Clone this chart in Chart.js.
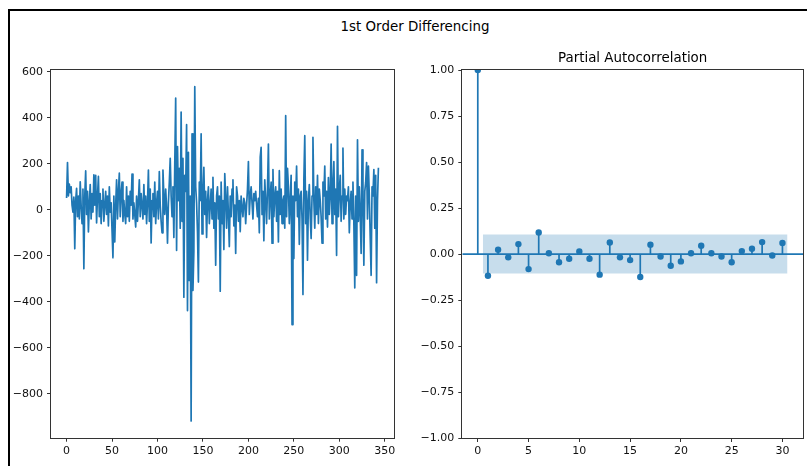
<!DOCTYPE html>
<html>
<head>
<meta charset="utf-8">
<script src="https://cdn.jsdelivr.net/npm/chart.js@4.4.1/dist/chart.umd.min.js"></script>
<style>
html, body { margin: 0; padding: 0; background: #fff; }
#page { position: relative; width: 807px; height: 466px; overflow: hidden; font-family: "DejaVu Sans", sans-serif; }
#frame { position: absolute; left: 8px; top: 9px; right: -10px; bottom: -10px; border-top: 2px solid #000; border-left: 2px solid #000; }
#suptitle { position: absolute; left: 0; width: 830px; top: 19px; line-height: 16px; text-align: center; font-size: 13.4px; color: #000; }
#diffChart { position: absolute; left: 0; top: 0; }
#pacfChart { position: absolute; left: 407px; top: 0; }
</style>
</head>
<body>
<div id="page">
  <div id="frame"></div>
  <div id="suptitle">1st Order Differencing</div>
  <canvas id="diffChart" width="400" height="466"></canvas>
  <canvas id="pacfChart" width="400" height="466"></canvas>
</div>
<script>
// first order differenced series, index 0..343
const diffValues = [
  51, 205, 60, 112, 75, 100, 20, -10, 55, -169, 40, 93, -30, 60, -40, 122, 20, -60, 90, -256,
  60, 169, -20, 80, -96, 30, 110, -40, 70, -10, 152, 20, 150, -57, 60, 145, -30, 70, -60, 40,
  90, -50, 20, 80, -20, 60, -70, 100, -10, 30, -90, -208, 60, -140, 20, 130, -40, 80, 159, -30,
  70, 120, -50, 40, -20, -60, 100, -30, 60, -50, 80, 20, 155, -40, 30, -20, -75, 60, -50, 40,
  130, -30, 70, 20, -40, 110, -20, 60, -60, 30, 173, -50, 90, -144, 40, 70, -30, 120, -60, 30,
  80, -40, 166, 20, -50, -100, 173, 60, -20, 90, 10, -145, 30, 120, 224, 60, -30, 100, -120, 200,
  486, -176, 275, 40, 180, -80, 425, -50, 224, -380, 150, 80, 370, -438, 250, -307, 60, -918, 330, -350,
  -180, 535, 100, 30, -100, -314, 120, 40, 330, -105, 60, 185, -20, 80, -120, 40, 100, -60, 20, 90,
  -40, 141, -80, 30, -241, 60, 100, -40, 60, -354, 120, -60, 40, -173, 157, 50, -80, 100, -20, -160,
  60, -30, 90, 130, -70, 20, -190, 100, 60, -50, 40, -95, 60, 10, -30, 50, 30, -60, 20, 90,
  210, -20, 60, 100, 30, -40, 70, 40, 80, 20, -30, 50, -100, 229, 271, -20, 80, -135, 130, 40,
  -60, 90, 286, -40, 60, 120, -145, 175, -30, 60, 100, -50, 80, -140, 170, -20, 90, -60, 40, 60,
  -80, 409, -30, 180, 100, -60, 40, 150, -499, 60, -212, 120, 40, 190, -30, 90, -150, 60, 80, -40,
  -368, 130, 322, -60, 80, -219, 40, 110, -30, -125, 60, 315, 40, -80, 100, -20, 150, -60, 90, 40,
  -30, -145, 120, 60, 190, -40, 80, -75, 140, -20, 60, 286, -60, 100, 210, -20, 90, -198, 363, -30,
  80, 150, -50, 60, 268, -40, 90, -20, 60, 40, 100, -100, 30, 80, -40, 120, -60, -339, 60, -285,
  304, -50, 100, -20, -190, 261, 40, -241, 80, 120, 205, -40, 190, 60, -120, -285, 100, 60, 175, -80, 150, -317, 40, 183
];
const diffXTicks = [0, 50, 100, 150, 200, 250, 300, 350];
const diffYTicks = [-800, -600, -400, -200, 0, 200, 400, 600];

const pacfLags = [0, 1, 2, 3, 4, 5, 6, 7, 8, 9, 10, 11, 12, 13, 14, 15, 16, 17, 18, 19, 20, 21, 22, 23, 24, 25, 26, 27, 28, 29, 30];
const pacfValues = [1.0, -0.118, 0.023, -0.018, 0.054, -0.082, 0.117, 0.004, -0.045, -0.026, 0.014, -0.026, -0.112, 0.063, -0.018,
  -0.033, -0.125, 0.051, -0.013, -0.064, -0.040, 0.004, 0.045, 0.004, -0.013, -0.045, 0.016, 0.029, 0.065, -0.008, 0.060];
const confBound = 0.1057;
const pacfXTicks = [0, 5, 10, 15, 20, 25, 30];
const pacfYTicks = [-1, -0.75, -0.5, -0.25, 0, 0.25, 0.5, 0.75, 1];

const blue = '#1f77b4';
const spine = '#333';
const tickFont = { family: 'DejaVu Sans', size: 11 };

const minus = s => String(s).replace('-', '\u2212');

// matplotlib style box around the axes
const boxPlugin = {
  id: 'box',
  afterDraw(chart) {
    const { ctx, chartArea: a } = chart;
    ctx.save();
    ctx.strokeStyle = spine;
    ctx.lineWidth = 1;
    ctx.strokeRect(Math.round(a.left) - 0.5, Math.round(a.top) - 0.5,
      Math.round(a.right - a.left) + 1, Math.round(a.bottom - a.top) + 1);
    ctx.restore();
  }
};

const axisBase = (ticks, fmt, pad) => ({
  type: 'linear',
  border: { display: false },
  grid: { drawOnChartArea: false, drawTicks: true, tickLength: 4, color: spine, tickWidth: 1 },
  ticks: { font: tickFont, color: '#111', padding: pad, callback: fmt, maxRotation: 0, autoSkip: false },
  afterBuildTicks: s => { s.ticks = ticks.map(v => ({ value: v })); }
});

const dmin = Math.min(...diffValues), dmax = Math.max(...diffValues);
const dm = (dmax - dmin) * 0.05;
const lastIdx = diffValues.length - 1;

new Chart(document.getElementById('diffChart'), {
  type: 'line',
  data: {
    datasets: [{
      data: diffValues.map((v, i) => ({ x: i, y: v })),
      borderColor: blue,
      borderWidth: 1.7,
      borderJoinStyle: 'round',
      pointRadius: 0,
      tension: 0,
      fill: false
    }]
  },
  options: {
    responsive: false,
    animation: false,
    devicePixelRatio: 1,
    layout: { padding: { top: 70, right: 6, left: 0, bottom: 0 } },
    plugins: { legend: { display: false }, tooltip: { enabled: false } },
    scales: {
      x: Object.assign(axisBase(diffXTicks, v => minus(v), 3), {
        min: -lastIdx * 0.05, max: lastIdx * 1.05,
        afterFit: s => { s.height = 28.3; }
      }),
      y: Object.assign(axisBase(diffYTicks, v => minus(v), 4), {
        min: dmin - dm, max: dmax + dm,
        afterFit: s => { s.width = 51; }
      })
    }
  },
  plugins: [boxPlugin]
});

const stemData = [];
pacfLags.forEach((l, i) => {
  stemData.push({ x: l, y: 0 }, { x: l, y: pacfValues[i] }, { x: l, y: null });
});
const bandLo = pacfLags[1] - 0.5, bandHi = pacfLags[pacfLags.length - 1] + 0.5;
const pxMin = pacfLags[0] - (bandHi - pacfLags[0]) * 0.05;
const pxMax = bandHi + (bandHi - pacfLags[0]) * 0.05;

new Chart(document.getElementById('pacfChart'), {
  type: 'scatter',
  data: {
    datasets: [
      {
        data: pacfLags.map((l, i) => ({ x: l, y: pacfValues[i] })),
        backgroundColor: blue, borderWidth: 0, pointRadius: 3.2, clip: 0
      },
      {
        data: stemData, showLine: true, borderColor: blue, borderWidth: 1.7,
        pointRadius: 0, spanGaps: false, clip: 0
      },
      {
        data: [{ x: pxMin, y: 0 }, { x: pxMax, y: 0 }], showLine: true,
        borderColor: blue, borderWidth: 1.7, pointRadius: 0
      },
      {
        data: [{ x: bandLo, y: confBound }, { x: bandHi, y: confBound }], showLine: true,
        borderWidth: 0, borderColor: 'rgba(0,0,0,0)', pointRadius: 0,
        fill: '+1', backgroundColor: 'rgba(31,119,180,0.25)'
      },
      {
        data: [{ x: bandLo, y: -confBound }, { x: bandHi, y: -confBound }], showLine: true,
        borderWidth: 0, borderColor: 'rgba(0,0,0,0)', pointRadius: 0, fill: false
      }
    ]
  },
  options: {
    responsive: false,
    animation: false,
    devicePixelRatio: 1,
    layout: { padding: { top: 0, right: 2, left: 0, bottom: 0 } },
    plugins: {
      legend: { display: false },
      tooltip: { enabled: false },
      title: {
        display: true, text: 'Partial Autocorrelation', fullSize: false, color: '#000',
        font: { family: 'DejaVu Sans', size: 13.4, weight: 'normal', lineHeight: 1.2 },
        padding: { top: 50.3, bottom: 3.7 }
      }
    },
    scales: {
      x: Object.assign(axisBase(pacfXTicks, v => minus(v), 3), {
        min: pxMin, max: pxMax,
        afterFit: s => { s.height = 28; }
      }),
      y: Object.assign(axisBase(pacfYTicks, v => minus(Number(v).toFixed(2)), 4), {
        min: -1, max: 1,
        afterFit: s => { s.width = 55.3; }
      })
    }
  },
  plugins: [boxPlugin]
});
</script>
</body>
</html>
